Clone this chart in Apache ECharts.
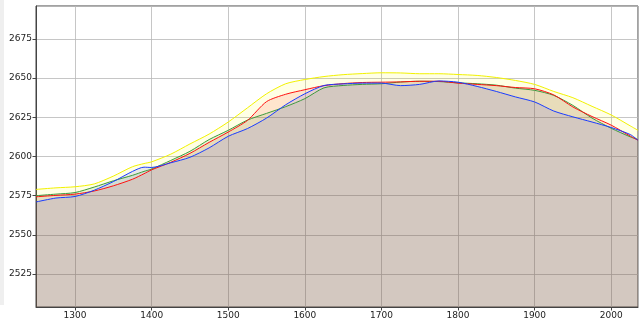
<!DOCTYPE html>
<html>
<head>
<meta charset="utf-8">
<script src="https://cdn.jsdelivr.net/npm/echarts@6/dist/echarts.min.js"></script>
<style>
  html, body { margin: 0; padding: 0; background: #fff; }
  #chart { width: 640px; height: 322px; }
</style>
</head>
<body>
<div id="chart"></div>
<script>
// x positions shared by all four curves
const xs = [1249, 1275, 1300, 1325, 1350, 1375, 1390, 1400, 1425, 1450, 1475, 1500, 1525, 1550, 1575,
  1600, 1625, 1650, 1675, 1700, 1725, 1750, 1775, 1800, 1825, 1850, 1875, 1900, 1925, 1950, 1975,
  2000, 2025, 2035];

const yellowVals = [2579, 2580, 2580.7, 2582.5, 2587.5, 2593.5, 2595.5, 2596.6, 2601.5, 2608, 2614.3,
  2622, 2631, 2640, 2646.4, 2649.1, 2651, 2652.2, 2652.9, 2653.4, 2653.3, 2652.8, 2652.8, 2652.3,
  2651.7, 2650.4, 2648.5, 2646, 2641.5, 2637.5, 2632, 2626.5, 2619.5, 2616.7];

const greenVals = [2575, 2576, 2577, 2580.5, 2584.5, 2588, 2590.5, 2592, 2597.5, 2603.3, 2610.8,
  2616.7, 2623.2, 2627.5, 2631.8, 2636.9, 2643.8, 2645.3, 2646, 2646.4, 2647.5, 2648, 2647.8, 2647,
  2646.4, 2645.5, 2643.6, 2642.2, 2639, 2632.6, 2624.5, 2618, 2612.5, 2610.8];

const redVals = [2574.3, 2575.2, 2576, 2578, 2581.3, 2585.5, 2589, 2591.5, 2596.3, 2602, 2609,
  2615.6, 2623, 2635, 2639.7, 2642.6, 2645.2, 2646.5, 2647.2, 2647.4, 2647.6, 2648, 2648, 2646.8,
  2646, 2645.2, 2644, 2643.2, 2639.3, 2631.6, 2625.5, 2620, 2613, 2610.4];

const blueVals = [2571, 2573.5, 2574.5, 2578.5, 2584, 2590.5, 2593.2, 2593, 2596, 2599.5, 2605.5,
  2612.9, 2617.8, 2624.5, 2633, 2640, 2645.3, 2646.3, 2646.8, 2646.8, 2645.2, 2646, 2648.2, 2647.4,
  2644.7, 2641.5, 2638, 2634.8, 2629, 2625.3, 2622, 2618.5, 2614, 2610.4];

const xTicks = [1300, 1400, 1500, 1600, 1700, 1800, 1900, 2000];
const yTicks = [2525, 2550, 2575, 2600, 2625, 2650, 2675];

const curves = [
  { name: "yellow", vals: yellowVals, color: "#f2f200", fill: "rgba(255,255,0,0.1)" },
  { name: "red", vals: redVals, color: "#ff1010", fill: "rgba(255,0,0,0.1)" },
  { name: "green", vals: greenVals, color: "#3c9a3c", fill: "rgba(0,128,0,0.09)" },
  { name: "blue", vals: blueVals, color: "#1a3cff", fill: "rgba(0,0,255,0.09)" },
];

const pairs = (vals) => xs.map((x, i) => [x, vals[i]]);

// shaded areas first, lines drawn on top
const areaSeries = curves.map((c) => ({
  name: c.name + "-area",
  type: "line",
  data: pairs(c.vals),
  smooth: 0.25,
  symbol: "none",
  lineStyle: { width: 0 },
  areaStyle: { color: c.fill, origin: "start", opacity: 1 },
  silent: true,
  z: 1,
}));

const lineSeries = ["yellow", "green", "red", "blue"].map((n) => {
  const c = curves.find((k) => k.name === n);
  return {
    name: c.name,
    type: "line",
    data: pairs(c.vals),
    smooth: 0.25,
    symbol: "none",
    lineStyle: { color: c.color, width: 1 },
    z: 3,
  };
});

const chart = echarts.init(document.getElementById("chart"), null, { renderer: "canvas" });

const option = {
  animation: false,
  backgroundColor: "#fff",
  grid: {
    left: 36, right: 2, top: 6, bottom: 15,
    show: true, borderColor: "#444", borderWidth: 1, backgroundColor: "transparent",
    containLabel: false,
  },
  xAxis: {
    type: "value",
    min: 1249, max: 2035,
    splitNumber: 8, minInterval: 100, maxInterval: 100,
    axisLine: { show: true, lineStyle: { color: "#444", width: 1 } },
    axisTick: { show: true, length: 3.5, lineStyle: { color: "#444" } },
    axisLabel: {
      show: true, showMinLabel: false, showMaxLabel: false,
      color: "#222", fontSize: 9, fontFamily: "DejaVu Sans", margin: 4,
      formatter: (v) => (xTicks.includes(v) ? String(v) : ""),
    },
    splitLine: { show: true, lineStyle: { color: "#b8b8b8", width: 0.8 } },
  },
  yAxis: {
    type: "value",
    min: 2504, max: 2696,
    splitNumber: 8, minInterval: 25, maxInterval: 25,
    axisLine: { show: true, lineStyle: { color: "#444", width: 1 } },
    axisTick: { show: true, length: 3.5, lineStyle: { color: "#444" } },
    axisLabel: {
      show: true, showMinLabel: false, showMaxLabel: false,
      color: "#222", fontSize: 9, fontFamily: "DejaVu Sans", margin: 4,
      formatter: (v) => (yTicks.includes(v) ? String(v) : ""),
    },
    splitLine: { show: true, lineStyle: { color: "#b8b8b8", width: 0.8 } },
  },
  graphic: [
    { type: "rect", left: 0, top: 0, shape: { width: 4, height: 305 }, style: { fill: "#efefef" }, silent: true },
  ],
  series: [...areaSeries, ...lineSeries],
};

chart.setOption(option);
</script>
</body>
</html>
